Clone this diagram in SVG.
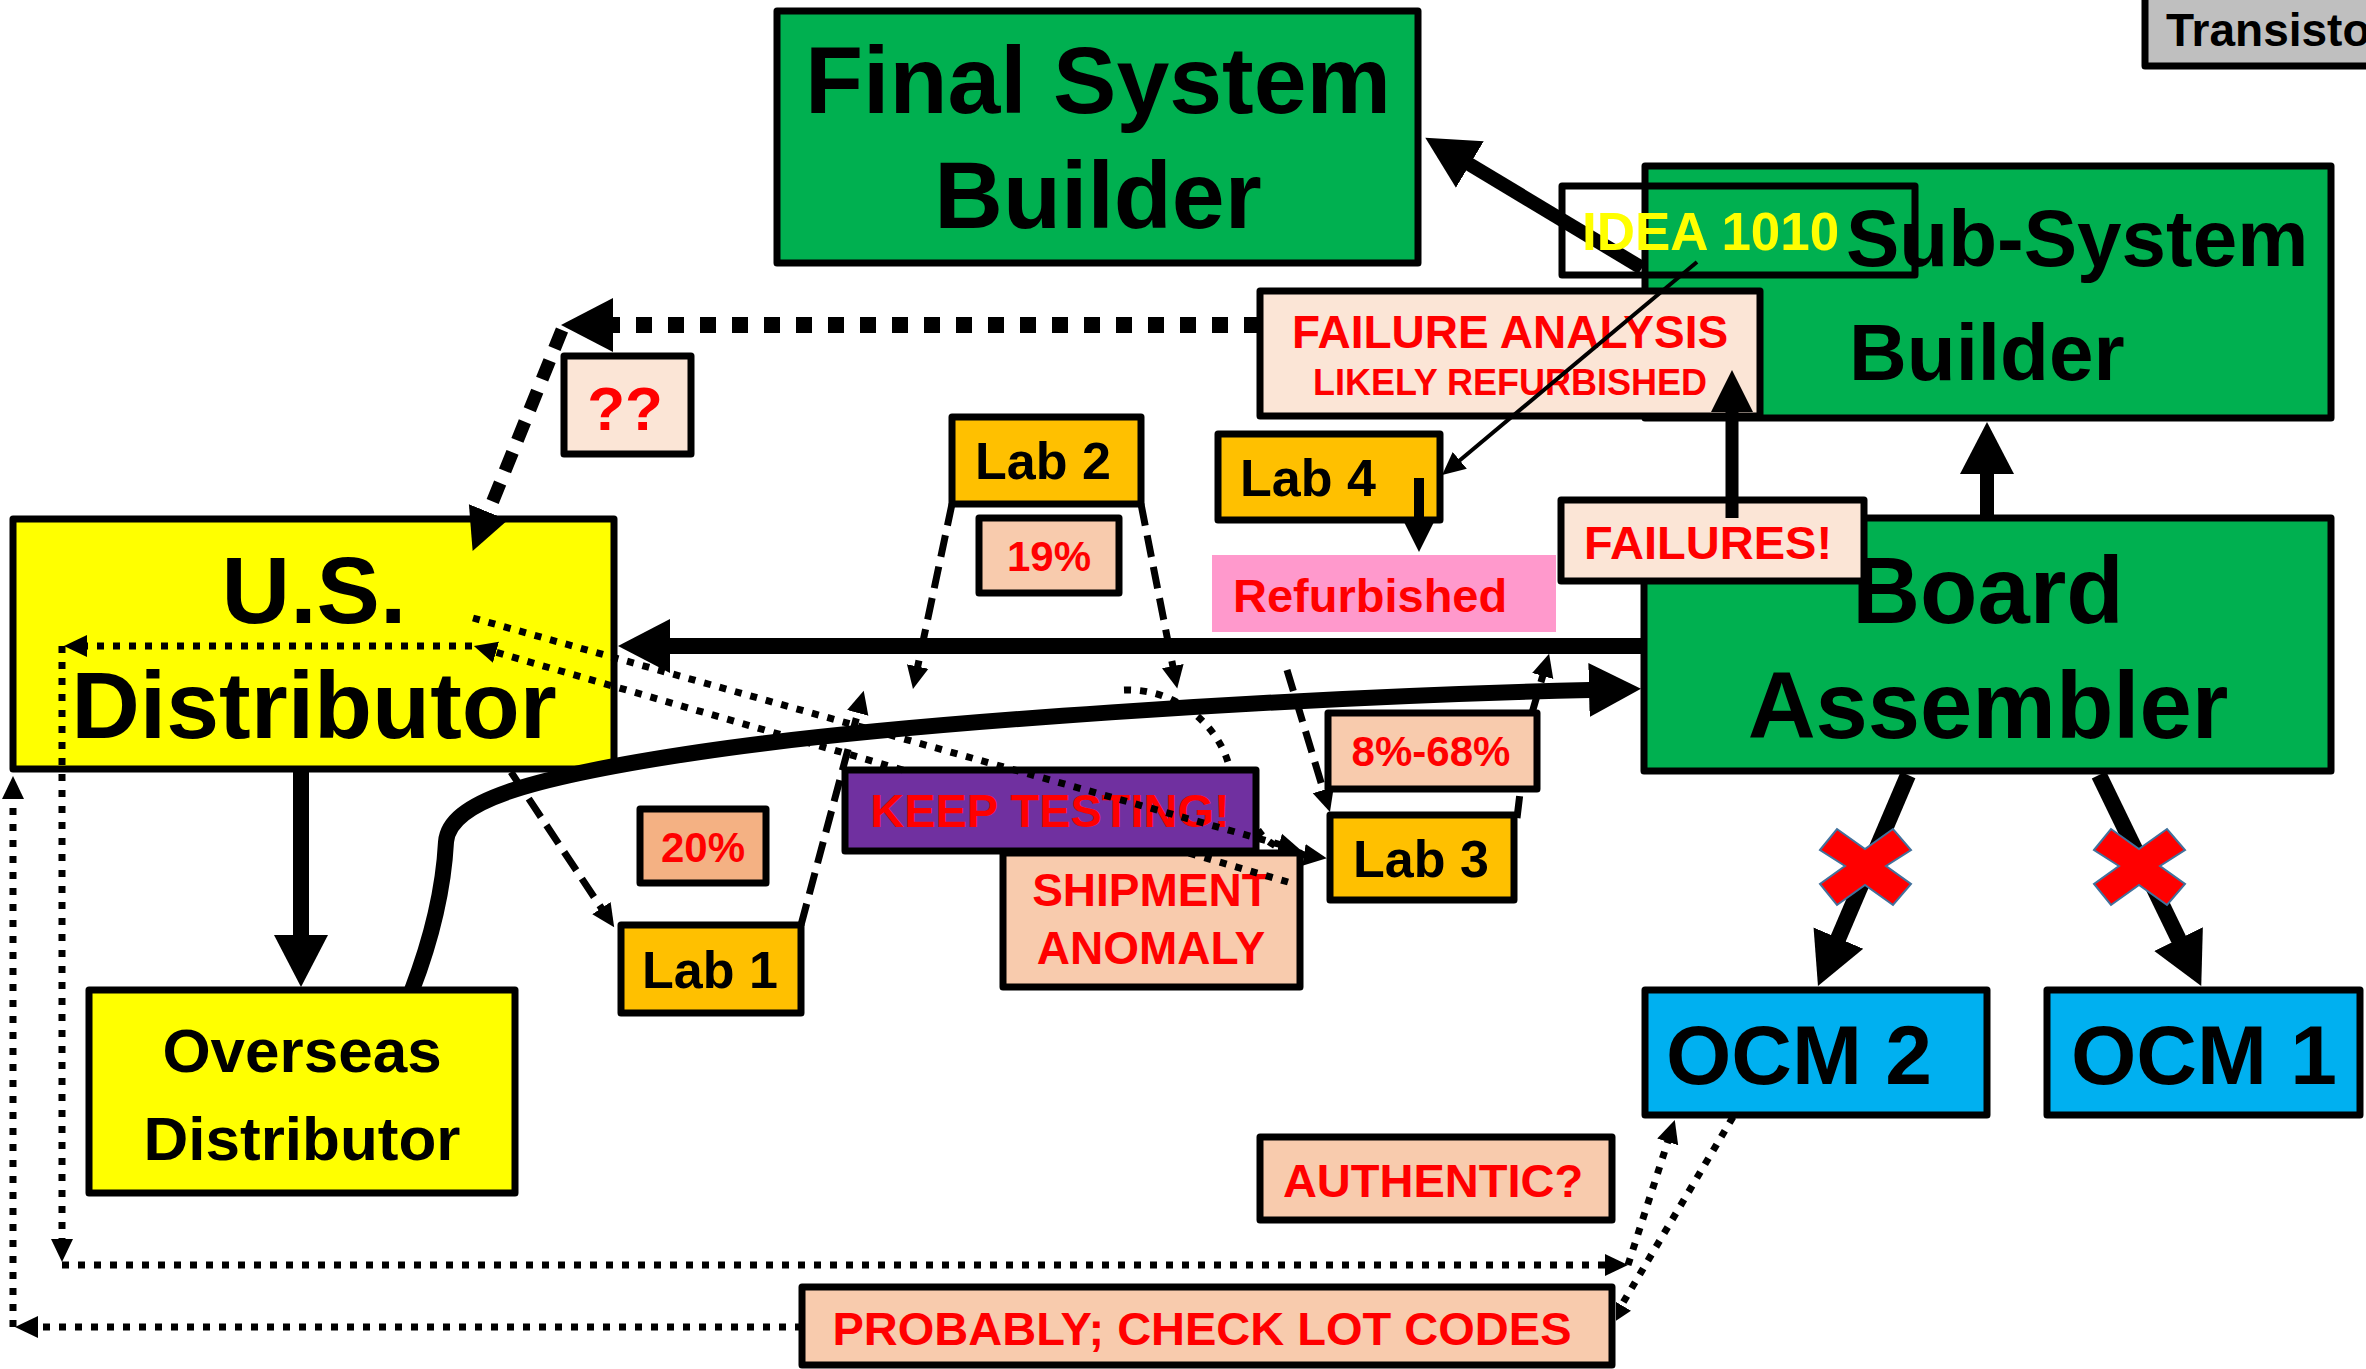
<svg xmlns="http://www.w3.org/2000/svg" width="2366" height="1369" viewBox="0 0 2366 1369">
<style>
.box{stroke:#000;stroke-width:7;stroke-linejoin:round}
.t{font-family:"Liberation Sans",Arial,sans-serif;font-weight:bold}
.k{fill:#000}
.r{fill:#f00}
.thick{stroke:#000;fill:none;stroke-width:16}
.dot{stroke:#000;fill:none;stroke-width:7;stroke-dasharray:7 9}
.dash{stroke:#000;fill:none;stroke-width:7;stroke-dasharray:22 10}
.xm{fill:#f00;stroke:#41719c;stroke-width:2}
</style>
<defs>
<marker id="hL" markerUnits="userSpaceOnUse" markerWidth="60" markerHeight="60" viewBox="0 -30 60 60" refX="1" refY="0" orient="auto"><path d="M0,-27 L52,0 L0,27 z" fill="#000"/></marker>
<marker id="hM" markerUnits="userSpaceOnUse" markerWidth="50" markerHeight="50" viewBox="0 -25 50 50" refX="1" refY="0" orient="auto"><path d="M0,-21 L42,0 L0,21 z" fill="#000"/></marker>
<marker id="hS" markerUnits="userSpaceOnUse" markerWidth="36" markerHeight="36" viewBox="0 -18 36 36" refX="1" refY="0" orient="auto"><path d="M0,-15 L30,0 L0,15 z" fill="#000"/></marker>
<marker id="hX" markerUnits="userSpaceOnUse" markerWidth="30" markerHeight="30" viewBox="0 -15 30 30" refX="1" refY="0" orient="auto"><path d="M0,-11 L23,0 L0,11 z" fill="#000"/></marker>
<clipPath id="clipP"><rect x="1616" y="1000" width="400" height="369"/></clipPath>
<polygon id="xmark" points="-45,-16 -28,-37 0,-17 28,-37 46,-16 21,0 46,18 28,39 0,19 -28,39 -45,18 -20,0"/>
</defs>
<rect width="2366" height="1369" fill="#fff"/>

<g id="transistor">
<rect class="box" x="2145" y="-20" width="260" height="86" fill="#bfbfbf"/>
<text class="t k" x="2166" y="46" font-size="46">Transisto</text>
</g>

<g id="final-system-builder">
<rect class="box" x="777" y="11" width="641" height="252" fill="#00b050"/>
<text class="t k" x="1098" y="113" font-size="95" text-anchor="middle">Final System</text>
<text class="t k" x="1098" y="228" font-size="95" text-anchor="middle">Builder</text>
</g>

<g id="sub-system-builder">
<rect class="box" x="1645" y="166" width="686" height="252" fill="#00b050"/>
<text class="t k" x="1846" y="266" font-size="80">Sub-System</text>
<text class="t k" x="1849" y="380" font-size="80">Builder</text>
</g>

<g id="failure-analysis">
<rect class="box" x="1260" y="291" width="500" height="125" fill="#fbe5d6"/>
<text class="t r" x="1510" y="348" font-size="46" text-anchor="middle">FAILURE ANALYSIS</text>
<text class="t r" x="1510" y="395" font-size="36" text-anchor="middle">LIKELY REFURBISHED</text>
</g>

<g id="board-assembler">
<rect class="box" x="1644" y="518" width="687" height="253" fill="#00b050"/>
<text class="t k" x="1988" y="623" font-size="94" text-anchor="middle">Board</text>
<text class="t k" x="1988" y="738" font-size="94" text-anchor="middle">Assembler</text>
</g>

<g id="failures">
<rect class="box" x="1561" y="500" width="303" height="81" fill="#fbe5d6"/>
<text class="t r" x="1708" y="559" font-size="47" text-anchor="middle">FAILURES!</text>
</g>

<g id="refurbished">
<rect x="1212" y="555" width="344" height="77" fill="#ff99cc"/>
<text class="t r" x="1233" y="612" font-size="47">Refurbished</text>
</g>

<g id="lab4">
<rect class="box" x="1218" y="434" width="222" height="86" fill="#ffc000"/>
<text class="t k" x="1240" y="496" font-size="52">Lab 4</text>
</g>

<g id="lab2">
<rect class="box" x="952" y="417" width="189" height="87" fill="#ffc000"/>
<text class="t k" x="1043" y="479" font-size="52" text-anchor="middle">Lab 2</text>
</g>

<g id="pct19">
<rect class="box" x="979" y="518" width="140" height="75" fill="#f8cbad"/>
<text class="t r" x="1049" y="571" font-size="42" text-anchor="middle">19%</text>
</g>

<g id="qq">
<rect class="box" x="564" y="356" width="127" height="98" fill="#fbe5d6"/>
<text class="t r" x="625" y="430" font-size="62" text-anchor="middle">??</text>
</g>

<g id="us-distributor">
<rect class="box" x="13" y="519" width="601" height="250" fill="#ffff00"/>
<text class="t k" x="314" y="623" font-size="95" text-anchor="middle">U.S.</text>
<text class="t k" x="314" y="738" font-size="95" text-anchor="middle">Distributor</text>
</g>

<g id="overseas-distributor">
<rect class="box" x="89" y="990" width="426" height="203" fill="#ffff00"/>
<text class="t k" x="302" y="1072" font-size="62" text-anchor="middle">Overseas</text>
<text class="t k" x="302" y="1160" font-size="62" text-anchor="middle">Distributor</text>
</g>

<g id="pct20">
<rect class="box" x="640" y="809" width="126" height="74" fill="#f4b183"/>
<text class="t r" x="703" y="862" font-size="42" text-anchor="middle">20%</text>
</g>

<g id="lab1">
<rect class="box" x="621" y="925" width="180" height="88" fill="#ffc000"/>
<text class="t k" x="710" y="988" font-size="52" text-anchor="middle">Lab 1</text>
</g>

<g id="shipment-anomaly">
<rect class="box" x="1003" y="853" width="297" height="134" fill="#f8cbad"/>
<text class="t r" x="1151" y="906" font-size="46" text-anchor="middle">SHIPMENT</text>
<text class="t r" x="1151" y="964" font-size="46" text-anchor="middle">ANOMALY</text>
</g>

<g id="keep-testing">
<rect class="box" x="845" y="770" width="411" height="81" fill="#7030a0"/>
<text class="t r" x="1050" y="827" font-size="47" text-anchor="middle">KEEP TESTING!</text>
</g>

<g id="pct8-68">
<rect class="box" x="1328" y="713" width="209" height="76" fill="#f8cbad"/>
<text class="t r" x="1431" y="766" font-size="42" text-anchor="middle">8%-68%</text>
</g>

<g id="lab3">
<rect class="box" x="1330" y="815" width="184" height="85" fill="#ffc000"/>
<text class="t k" x="1421" y="877" font-size="52" text-anchor="middle">Lab 3</text>
</g>

<g id="ocm2">
<rect class="box" x="1645" y="990" width="342" height="125" fill="#00b0f0"/>
<text class="t k" x="1666" y="1084" font-size="84">OCM 2</text>
</g>

<g id="ocm1">
<rect class="box" x="2047" y="990" width="313" height="125" fill="#00b0f0"/>
<text class="t k" x="2071" y="1084" font-size="84">OCM 1</text>
</g>

<g id="authentic">
<rect class="box" x="1260" y="1137" width="352" height="83" fill="#f8cbad"/>
<text class="t r" x="1433" y="1197" font-size="47" text-anchor="middle">AUTHENTIC?</text>
</g>

<g id="probably">
<rect class="box" x="802" y="1287" width="810" height="78" fill="#f8cbad"/>
<text class="t r" x="1202" y="1345" font-size="47" text-anchor="middle">PROBABLY; CHECK LOT CODES</text>
</g>

<g id="connectors">
<path class="thick" style="stroke-width:14" d="M1642,268 L1469,164" marker-end="url(#hL)"/>
<path stroke="#000" stroke-width="4" fill="none" d="M1697,262 L1459,461" marker-end="url(#hX)"/>
<path stroke="#000" stroke-width="10" fill="none" d="M1419,478 L1419,523" marker-end="url(#hS)"/>
<path stroke="#000" stroke-width="13" fill="none" d="M1732,518 L1732,411" marker-end="url(#hM)"/>
<path class="thick" style="stroke-width:14" d="M1987,518 L1987,473" marker-end="url(#hL)"/>
<path class="thick" d="M1644,646 L669,646" marker-end="url(#hL)"/>
<path class="thick" d="M412,990 C435,930 444,880 446,842 C449,802 525,778 700,752 C900,722 1300,697 1590,690" marker-end="url(#hL)"/>
<path class="thick" d="M301,771 L301,936" marker-end="url(#hL)"/>
<path class="thick" d="M1908,775 L1838,939" marker-end="url(#hL)"/>
<path class="thick" d="M2099,775 L2179,940" marker-end="url(#hL)"/>
<path class="thick" style="stroke-dasharray:16 16" d="M1260,325 L612,325" marker-end="url(#hL)"/>
<path stroke="#000" stroke-width="13" fill="none" stroke-dasharray="20 13" d="M562,330 L488,513" marker-end="url(#hM)"/>
<path class="dash" d="M511,772 L602,909" marker-end="url(#hX)"/>
<path class="dash" d="M801,925 L858,712" marker-end="url(#hX)"/>
<path class="dash" d="M952,504 L917.5,667.5" marker-end="url(#hX)"/>
<path class="dash" d="M1141,504 L1173,667" marker-end="url(#hX)"/>
<path class="dash" d="M1287,670 L1323.6,791" marker-end="url(#hX)"/>
<path class="dash" d="M1517,818 L1520,793 M1532,713 L1543,675" marker-end="url(#hX)"/>
<path class="dot" d="M473,618 L1280,844.5" marker-end="url(#hX)"/>
<path class="dot" d="M1288,882 L1185,852 M903,770 L495,652" marker-end="url(#hX)"/>
<path class="dot" d="M1124,690 C1180,688 1222,730 1230,770 M1258,830 C1268,845 1285,852 1305,855" marker-end="url(#hX)"/>
<path class="dot" d="M472,646 L86,646" marker-end="url(#hX)"/>
<path class="dot" d="M62,646 L62,1240" marker-end="url(#hX)"/>
<path class="dot" d="M62,1265 L1606,1265" marker-end="url(#hX)"/>
<path class="dot" d="M1628,1265 L1668,1141" marker-end="url(#hX)"/>
<path class="dot" clip-path="url(#clipP)" d="M1733,1117 L1621,1306" marker-end="url(#hX)"/>
<path class="dot" d="M802,1327 L37,1327" marker-end="url(#hX)"/>
<path class="dot" d="M13,1327 L13,798" marker-end="url(#hX)"/>
</g>

<g id="idea-1010">
<rect class="box" x="1562" y="186" width="353" height="89" fill="none"/>
<text class="t" x="1582" y="250" font-size="53" fill="#ffff00">IDEA 1010</text>
</g>

<g id="x-marks">
<use href="#xmark" class="xm" x="1865" y="866"/>
<use href="#xmark" class="xm" x="2139" y="866"/>
</g>
</svg>
